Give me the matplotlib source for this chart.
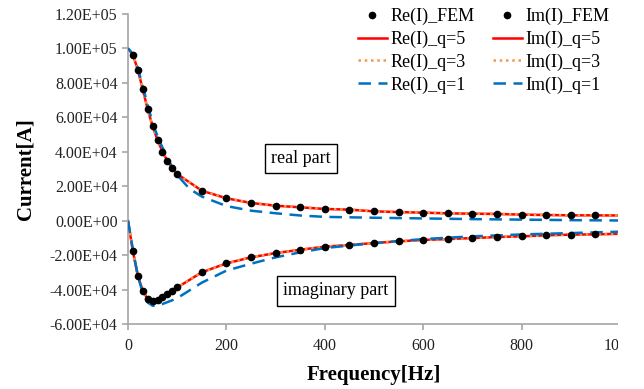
### Importing useful packages
import numpy as np
import matplotlib
matplotlib.use('Agg')
import matplotlib.pyplot as plt
from matplotlib.ticker import FuncFormatter, MultipleLocator
from matplotlib.patches import Rectangle

### Data
## FEM sample frequencies [Hz]
freq_fem = [10, 20, 30, 40, 50, 60, 70, 80, 90, 100, 150, 200, 250, 300, 350, 400,
            450, 500, 550, 600, 650, 700, 750, 800, 850, 900, 950]

## FEM real and imaginary current [A]
re_fem = [96300, 87600, 76200, 64700, 54800, 46900, 40100, 34700, 30400, 27100,
          17400, 13000, 10300, 8700, 7750, 6800, 6400, 5400, 5000, 4650, 4250,
          4050, 3900, 3500, 3300, 3100, 3100]
im_fem = [-17800, -32000, -40700, -45500, -46500, -45900, -44600, -42600, -40700,
          -38800, -30000, -24800, -21300, -18800, -16900, -15100, -14100, -13000,
          -12000, -11200, -10700, -10100, -9500, -9100, -8500, -8100, -7950]

## q=5 / q=3 model curves (practically on top of the FEM points)
freq_q = [0] + freq_fem + [1000]
re_q5 = [100000] + re_fem + [3000]
im_q5 = [0] + im_fem + [-7600]
re_q3 = [100000] + re_fem + [3000]
im_q3 = [0] + im_fem + [-7700]

## q=1 model curve
freq_q1 = [0, 10, 20, 30, 40, 50, 60, 70, 80, 90, 100, 125, 150, 200, 250, 300,
           350, 400, 500, 600, 700, 800, 900, 1000]
re_q1 = [100000, 96800, 88500, 78000, 67000, 57000, 49000, 42500, 36500, 31000,
         26500, 18500, 14000, 8500, 5800, 4300, 3000, 2200, 1700, 1300, 900, 600,
         300, 100]
im_q1 = [0, -17000, -32000, -42000, -47500, -49400, -49300, -48400, -47300, -46200,
         -45000, -40500, -36000, -29000, -25000, -21300, -18400, -15900, -13000,
         -10700, -9100, -8000, -7200, -6400]

### Colours
red = '#FF0000'
orange = '#F79646'
blue = '#0070C0'
grey = '#A6A6A6'

### Figure setup
plt.rcParams['font.family'] = ['Liberation Serif', 'DejaVu Serif']
fig = plt.figure(figsize=(6.44, 3.89), dpi=100)
ax = fig.add_axes([128 / 644, 1 - 324 / 389, 492 / 644, 310 / 389])

## Real part lines
ax.plot(freq_q, re_q5, color=red, lw=1.8, label='Re(I)_q=5', zorder=2)
ax.plot(freq_q, re_q3, color=orange, lw=1.8, ls=(0, (1, 1.5)), label='Re(I)_q=3', zorder=3)
ax.plot(freq_q1, re_q1, color=blue, lw=1.8, ls=(0, (5, 3)), label='Re(I)_q=1', zorder=4)

## Imaginary part lines
ax.plot(freq_q, im_q5, color=red, lw=1.8, label='Im(I)_q=5', zorder=2)
ax.plot(freq_q, im_q3, color=orange, lw=1.8, ls=(0, (1, 1.5)), label='Im(I)_q=3', zorder=3)
ax.plot(freq_q1, im_q1, color=blue, lw=1.8, ls=(0, (5, 3)), label='Im(I)_q=1', zorder=4)

## FEM points
ax.plot(freq_fem, re_fem, 'o', color='black', ms=4.5, label='Re(I)_FEM', zorder=5)
ax.plot(freq_fem, im_fem, 'o', color='black', ms=4.5, label='Im(I)_FEM', zorder=5)

### Axes styling
ax.set_xlim(0, 1000)
ax.set_ylim(-60000, 120000)
ax.xaxis.set_major_locator(MultipleLocator(200))
ax.yaxis.set_major_locator(MultipleLocator(20000))
ax.yaxis.set_major_formatter(FuncFormatter(lambda v, p: '{:.2E}'.format(v)))
ax.spines['top'].set_visible(False)
ax.spines['right'].set_visible(False)
ax.spines['left'].set_color(grey)
ax.spines['bottom'].set_color(grey)
ax.spines['left'].set_linewidth(1.2)
ax.spines['bottom'].set_linewidth(1.2)
ax.tick_params(axis='both', colors=grey, length=4, width=1.2, labelsize=11.5,
               labelcolor='#222222')
ax.tick_params(axis='x', pad=6)
ax.set_xlabel('Frequency[Hz]', fontsize=15, fontweight='bold', labelpad=8)
ax.set_ylabel('Current[A]', fontsize=15, fontweight='bold', labelpad=10)

### Annotation boxes
box = dict(boxstyle='square,pad=0.35', fc='white', ec='black', lw=1)
ax.text(352, 36000, 'real part', fontsize=13, ha='center', va='center', bbox=box, zorder=6)
ax.text(423, -40700, 'imaginary part', fontsize=13, ha='center', va='center', bbox=box, zorder=6)

### Legend, two columns (Re left, Im right)
h, l = ax.get_legend_handles_labels()
order = ['Re(I)_FEM', 'Re(I)_q=5', 'Re(I)_q=3', 'Re(I)_q=1',
         'Im(I)_FEM', 'Im(I)_q=5', 'Im(I)_q=3', 'Im(I)_q=1']
hd = dict(zip(l, h))
fig.legend([hd[k] for k in order], order, ncol=2, loc='upper left',
           bbox_to_anchor=(358 / 644, 1 - 8 / 389), frameon=False, fontsize=13,
           handlelength=1.6, handletextpad=0.2, columnspacing=1.0,
           labelspacing=0.3, borderpad=0, borderaxespad=0)

## The original picture is cropped just short of the right axis end
fig.patches.append(Rectangle((618 / 644, 0), 1, 1, transform=fig.transFigure,
                             fc='white', ec='none', zorder=10))

fig.savefig('out.png', dpi=100)
